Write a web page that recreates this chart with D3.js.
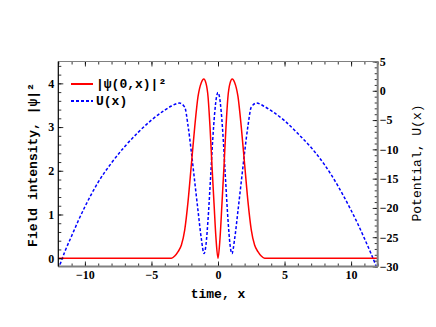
<!DOCTYPE html>
<html>
<head>
<meta charset="utf-8">
<script src="https://cdn.jsdelivr.net/npm/d3@7"></script>
<style>
    body { margin: 0; background: #fff; }
    .tick text { font-family: "Liberation Serif", serif; font-weight: bold; font-size: 12px; fill: #000; }
    .label { font-family: "Liberation Mono", monospace; font-size: 13px; fill: #000; }
</style>
</head>
<body>
<div id="chart"></div>
<script>
// Field intensity |psi(0,x)|^2
const redX = [-12, -3.5, -3.25, -3.0, -2.75, -2.5, -2.25, -2.0, -1.75, -1.5, -1.25, -1.07, -0.9, -0.75, -0.6, -0.45, -0.3, -0.15, 0,
    0.15, 0.3, 0.45, 0.6, 0.75, 0.9, 1.07, 1.25, 1.5, 1.75, 2.0, 2.25, 2.5, 2.75, 3.0, 3.25, 3.5, 12];
const redY = [0, 0, 0.05, 0.15, 0.3, 0.65, 1.3, 2.15, 3.0, 3.7, 4.02, 4.1, 4.0, 3.7, 3.0, 2.1, 1.26, 0.45, 0,
    0.45, 1.26, 2.1, 3.0, 3.7, 4.0, 4.1, 4.02, 3.7, 3.0, 2.15, 1.3, 0.65, 0.3, 0.15, 0.05, 0, 0];

// Potential U(x)
const blueX = [-12, -11.5, -11, -10.5, -10, -9, -8, -7, -6, -5, -4, -3.5, -2.9, -2.5, -2.25, -2.0, -1.75, -1.5, -1.25, -1.05, -0.9, -0.75, -0.55, -0.4, -0.25, -0.1, 0,
    0.1, 0.25, 0.4, 0.55, 0.75, 0.9, 1.05, 1.25, 1.5, 1.75, 2.0, 2.25, 2.5, 2.9, 3.5, 4, 5, 6, 7, 8, 9, 10, 10.5, 11, 11.5, 12];
const blueY = [-30.5, -27.4, -24.8, -22.2, -19.8, -15.6, -12.3, -9.5, -7.1, -5.0, -3.3, -2.6, -2.1, -2.8, -6.0, -10.5, -15.5, -20.5, -25.3, -27.8, -26.2, -22.0, -14.5, -8.5, -3.8, -0.9, -0.3,
    -0.9, -3.8, -8.5, -14.5, -22.0, -26.2, -27.8, -25.3, -20.5, -15.5, -10.5, -6.0, -2.8, -2.1, -2.7, -3.4, -5.1, -7.3, -9.7, -12.6, -16.2, -20.4, -22.7, -25.2, -27.8, -30.6];

const xTicks = [-10, -5, 0, 5, 10];
const leftTicks = [0, 1, 2, 3, 4];
const rightTicks = [5, 0, -5, -10, -15, -20, -25, -30];

const W = 436, H = 327;
const plot = { left: 58.3, right: 377.7, top: 61.5, bottom: 266.5 };

const svg = d3.select('#chart').append('svg')
    .attr('width', W)
    .attr('height', H);

const x = d3.scaleLinear().domain([-12, 12]).range([plot.left, plot.right]);
const yL = d3.scaleLinear().domain([-0.19, 4.5]).range([plot.bottom, plot.top]);
const yR = d3.scaleLinear().domain([-30, 5]).range([plot.bottom, plot.top]);

// clip for curves
svg.append('defs').append('clipPath').attr('id', 'clip')
    .append('rect')
    .attr('x', plot.left).attr('y', plot.top)
    .attr('width', plot.right - plot.left)
    .attr('height', plot.bottom - plot.top);

const redData = redX.map((d, i) => [d, redY[i]]);
const blueData = blueX.map((d, i) => [d, blueY[i]]);

const curves = svg.append('g').attr('clip-path', 'url(#clip)');

curves.append('path')
    .datum(blueData)
    .attr('fill', 'none')
    .attr('stroke', '#0000ff')
    .attr('stroke-width', 1.5)
    .attr('stroke-dasharray', '3,2')
    .attr('d', d3.line().x(d => x(d[0])).y(d => yR(d[1])).curve(d3.curveMonotoneX));

curves.append('path')
    .datum(redData)
    .attr('fill', 'none')
    .attr('stroke', '#ff0000')
    .attr('stroke-width', 1.5)
    .attr('d', d3.line().x(d => x(d[0])).y(d => yL(d[1])).curve(d3.curveMonotoneX));

// ticks, all pointing inward
function range(a, b, s) {
    const out = [];
    for (let v = a; v <= b + 1e-9; v += s) out.push(+v.toFixed(4));
    return out;
}

function addAxis(axis, transform, labels) {
    const g = svg.append('g').attr('transform', transform).call(axis);
    g.select('.domain').remove();
    g.selectAll('line').attr('stroke', '#000').attr('stroke-width', 0.8);
    if (!labels) g.selectAll('text').remove();
    return g;
}

const fmt = d3.format('d');

// bottom
addAxis(d3.axisBottom(x).tickValues(range(-12, 12, 1)).tickSize(-3).tickFormat(''), `translate(0,${plot.bottom})`, false);
addAxis(d3.axisBottom(x).tickValues(xTicks).tickSize(-5).tickPadding(4).tickFormat(fmt), `translate(0,${plot.bottom})`, true);
// top
addAxis(d3.axisTop(x).tickValues(range(-12, 12, 1)).tickSize(-3).tickFormat(''), `translate(0,${plot.top})`, false);
addAxis(d3.axisTop(x).tickValues(xTicks).tickSize(-5).tickFormat(''), `translate(0,${plot.top})`, false);
// left
addAxis(d3.axisLeft(yL).tickValues(range(-0.2, 4.4, 0.2).filter(v => v >= -0.19)).tickSize(-3).tickFormat(''), `translate(${plot.left},0)`, false);
addAxis(d3.axisLeft(yL).tickValues(leftTicks).tickSize(-5).tickPadding(4).tickFormat(fmt), `translate(${plot.left},0)`, true);
// right
addAxis(d3.axisRight(yR).tickValues(range(-30, 5, 1)).tickSize(-3).tickFormat(''), `translate(${plot.right},0)`, false);
addAxis(d3.axisRight(yR).tickValues(rightTicks).tickSize(-5).tickPadding(2).tickFormat(fmt), `translate(${plot.right},0)`, true);

// frame
svg.append('line')
    .attr('x1', plot.left).attr('x2', plot.right)
    .attr('y1', plot.bottom).attr('y2', plot.bottom)
    .attr('stroke', '#808080').attr('stroke-width', 2);
svg.append('line')
    .attr('x1', plot.left).attr('x2', plot.right)
    .attr('y1', plot.top).attr('y2', plot.top)
    .attr('stroke', '#808080').attr('stroke-width', 1.2);
svg.append('line')
    .attr('x1', plot.right).attr('x2', plot.right)
    .attr('y1', plot.top).attr('y2', plot.bottom)
    .attr('stroke', '#808080').attr('stroke-width', 2);
svg.append('line')
    .attr('x1', plot.left).attr('x2', plot.left)
    .attr('y1', plot.top).attr('y2', plot.bottom)
    .attr('stroke', '#000').attr('stroke-width', 1.2);

// axis labels
svg.append('text')
    .attr('class', 'label')
    .attr('x', 218).attr('y', 298)
    .attr('text-anchor', 'middle')
    .attr('font-weight', 'bold')
    .text('time, x');

svg.append('text')
    .attr('class', 'label')
    .attr('transform', 'translate(37,165) rotate(-90)')
    .attr('text-anchor', 'middle')
    .attr('font-weight', 'bold')
    .text('Field intensity, |ψ|²');

svg.append('text')
    .attr('class', 'label')
    .attr('transform', 'translate(421,163) rotate(-90)')
    .attr('text-anchor', 'middle')
    .text('Potential, U(x)');

// legend
const legend = svg.append('g');
legend.append('line')
    .attr('x1', 71).attr('x2', 93).attr('y1', 84).attr('y2', 84)
    .attr('stroke', '#ff0000').attr('stroke-width', 2);
legend.append('line')
    .attr('x1', 71).attr('x2', 93).attr('y1', 101).attr('y2', 101)
    .attr('stroke', '#0000ff').attr('stroke-width', 2).attr('stroke-dasharray', '3,2');
legend.append('text')
    .attr('class', 'label')
    .attr('x', 96).attr('y', 88)
    .attr('font-weight', 'bold')
    .text('|ψ(0,x)|²');
legend.append('text')
    .attr('class', 'label')
    .attr('x', 96).attr('y', 105)
    .attr('font-weight', 'bold')
    .text('U(x)');
</script>
</body>
</html>
